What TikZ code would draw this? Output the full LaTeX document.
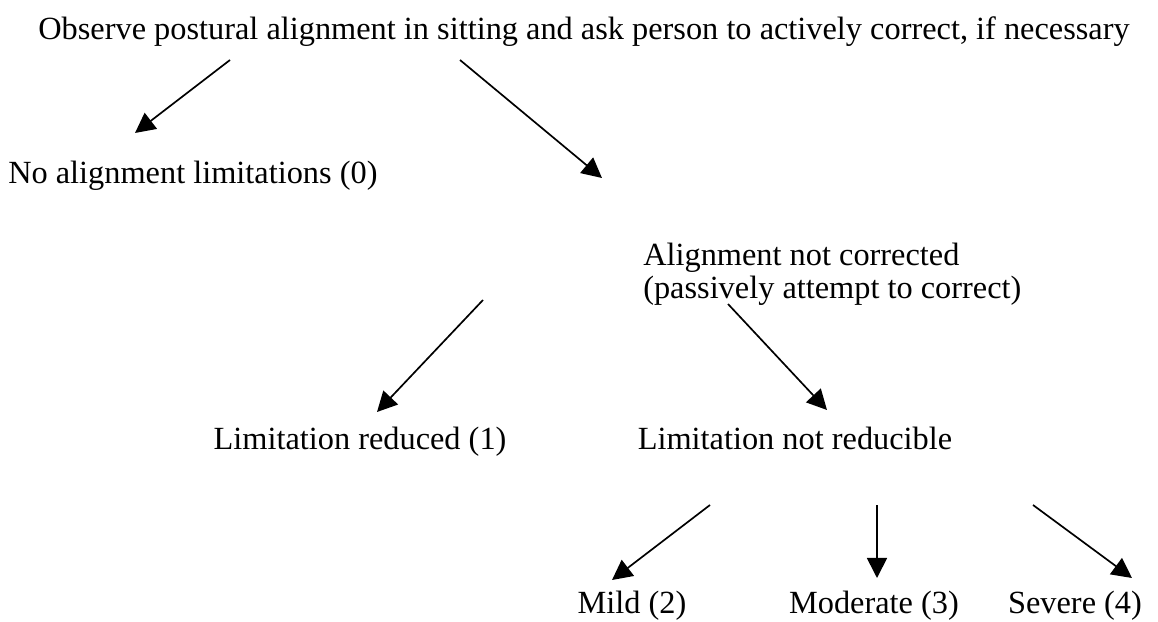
\documentclass[tikz,border=0pt]{standalone}
\usepackage{fontspec}
\setmainfont{Liberation Serif}
\usetikzlibrary{arrows.meta}
\begin{document}
\begin{tikzpicture}[x=0.025cm,y=-0.025cm,
  lbl/.style={inner sep=0pt,font=\fontsize{23}{24}\selectfont,align=left},
  arr/.style={line width=1.2pt,-{Triangle[length=0.5cm,width=0.5cm]}}]
\useasboundingbox (0,0) rectangle (1158,622);
\node[lbl,anchor=base] (top) at (584,40) {Observe postural alignment in sitting and ask person to actively correct, if necessary};
\node[lbl,anchor=base west] (noal) at (8,184) {No alignment limitations (0)};
\node[lbl,anchor=base west] (anc) at (643,299) {Alignment not corrected\\(passively attempt to correct)};
\node[lbl,anchor=base] (red) at (360,450) {Limitation reduced (1)};
\node[lbl,anchor=base] (nred) at (795,450) {Limitation not reducible};
\node[lbl,anchor=base] (mild) at (632,613) {Mild (2)};
\node[lbl,anchor=base] (mod) at (874,613) {Moderate (3)};
\node[lbl,anchor=base] (sev) at (1075,613) {Severe (4)};
\coordinate (a1s) at (230,60); \coordinate (a1e) at (135,133);
\coordinate (a2s) at (460,60); \coordinate (a2e) at (602,178);
\coordinate (a3s) at (483,300); \coordinate (a3e) at (377,412);
\coordinate (a4s) at (728,304); \coordinate (a4e) at (827,410);
\coordinate (a5s) at (710,505); \coordinate (a5e) at (612,580);
\coordinate (a6s) at (877,505); \coordinate (a6e) at (877,578);
\coordinate (a7s) at (1033,505); \coordinate (a7e) at (1132,578);
\foreach \i in {1,...,7} \draw[arr] (a\i s) -- (a\i e);
\end{tikzpicture}
\end{document}
